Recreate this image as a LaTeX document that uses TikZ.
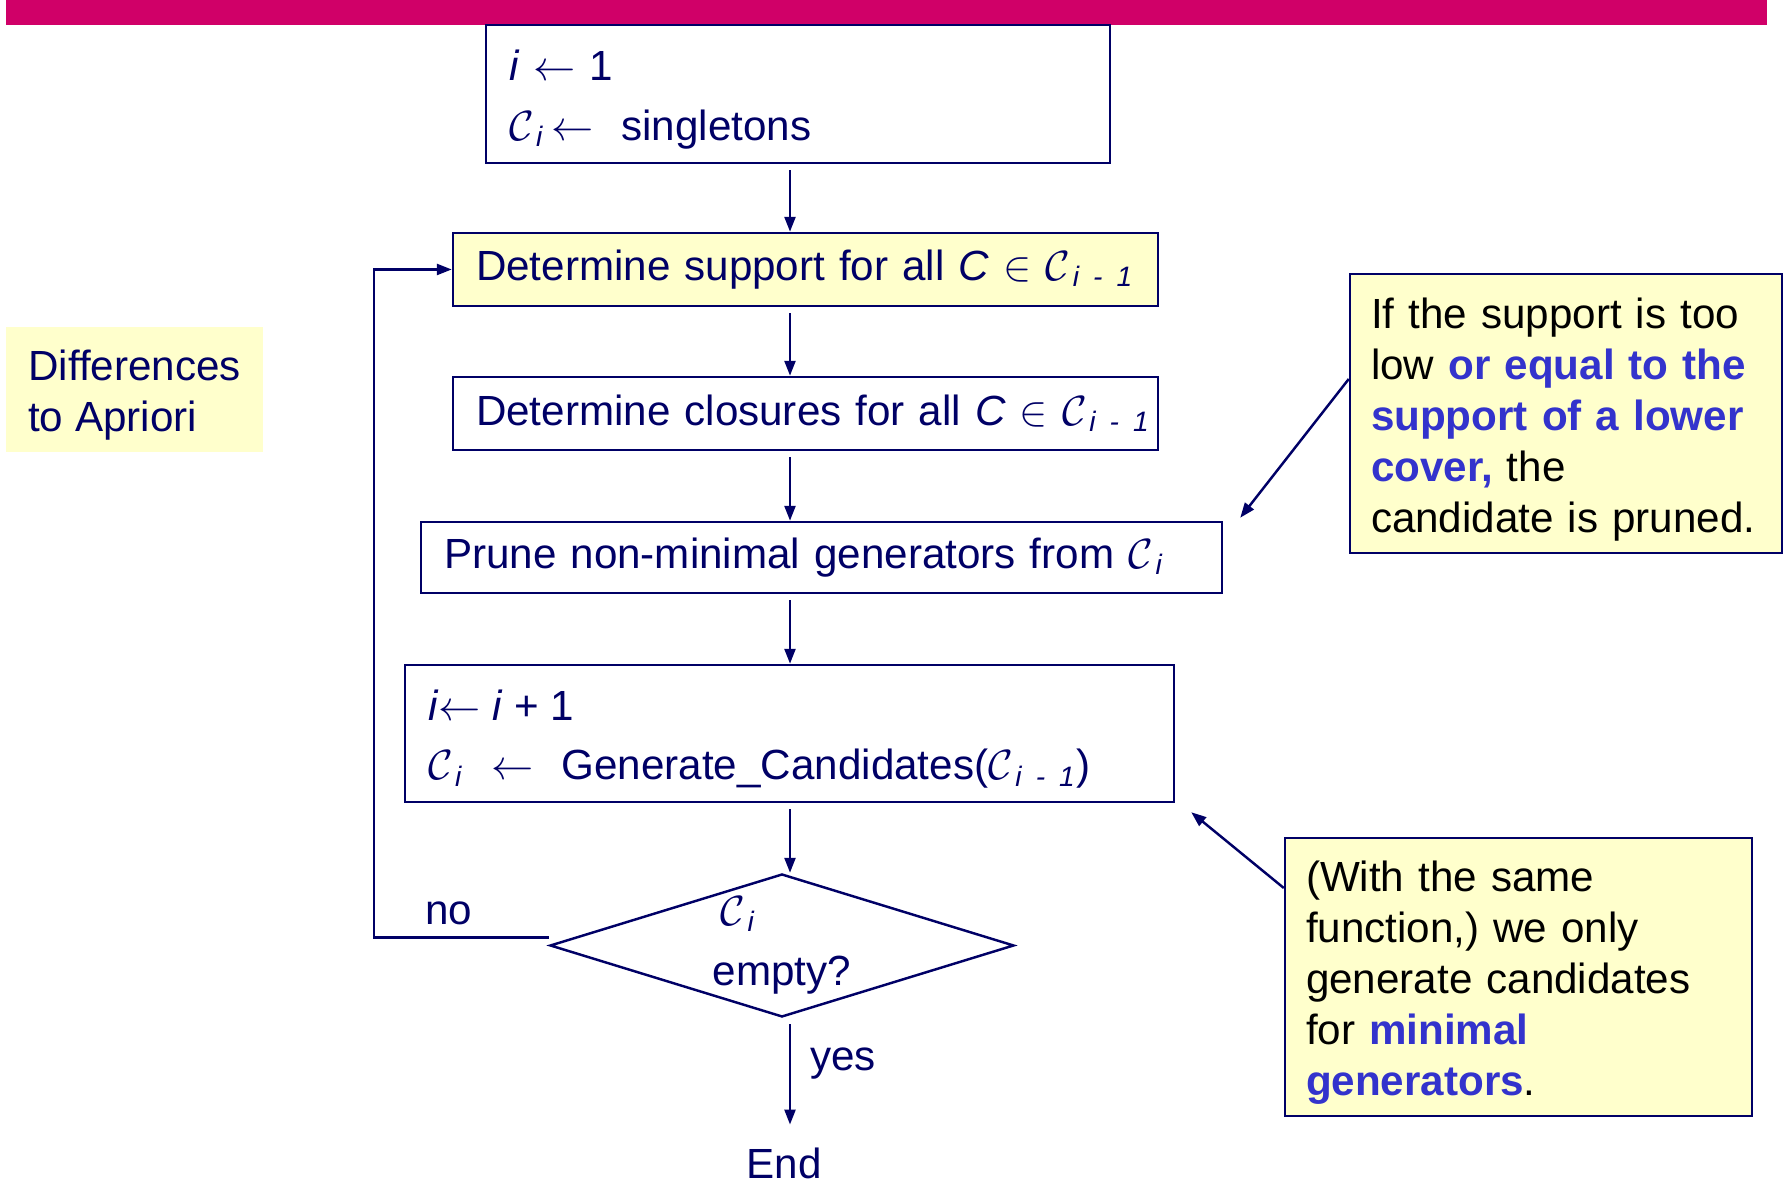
\documentclass[tikz,border=0pt]{standalone}
\usepackage{fontspec}
\usepackage{amsmath}
\setmainfont{Liberation Sans}
\usetikzlibrary{shapes.geometric,arrows.meta}
\definecolor{navy}{RGB}{0,0,102}
\definecolor{paleyellow}{RGB}{255,255,204}
\definecolor{hiblue}{RGB}{51,51,204}
\definecolor{barpink}{RGB}{208,0,104}
\newcommand{\Cs}[1]{$\mathcal{C}_{\,\textit{#1}}$}
\newcommand{\hl}[1]{\textcolor{hiblue}{\textbf{#1}}}
\newcommand{\topstrut}{\rule{0pt}{0.42cm}}

\begin{document}
\begin{tikzpicture}[auto, color=navy, line width=0.7pt,
    font=\fontsize{12}{14.5}\selectfont,
    process/.style ={rectangle, draw=navy, inner xsep=0.23cm, inner ysep=0pt,
                     align=left, text width=#1, minimum height=0.73cm},
    twoline/.style ={font=\fontsize{12}{17}\selectfont, minimum height=1.38cm},
    decision/.style ={diamond, draw=navy, inner sep=0pt,
                      minimum width=4.64cm, minimum height=1.43cm},
    comment/.style ={rectangle, draw=navy, fill=paleyellow, text=black,
                     inner xsep=0.21cm, align=left, text width=#1},
    arr/.style ={-{Triangle[length=0.15cm,width=0.11cm]}, navy, line width=0.7pt}]
   \useasboundingbox (0,0) rectangle (17.86,11.84);
   \fill[barpink] (0.06,11.59) rectangle (17.67,11.84);
   \coordinate (spine) at (7.90,0);
   \coordinate (loopx) at (3.74,0);
   % flow chart
   \node[process=5.78cm, twoline] (init) at (7.98,10.90)
      {\topstrut\textit{i} $\leftarrow$ 1\\ \Cs{i}\,$\leftarrow$\ \ singletons};
   \node[process=6.59cm, fill=paleyellow] (supp) at (8.055,9.145)
      {\mbox{Determine support for all \textit{C} $\in$\ \Cs{i - 1}}};
   \node[process=6.59cm] (clos) at (8.055,7.705)
      {\mbox{Determine closures for all \textit{C} $\in$\ \Cs{i - 1}}};
   \node[process=7.55cm, minimum height=0.71cm] (prune) at (8.215,6.265)
      {\mbox{Prune non-minimal generators from \Cs{i}}};
   \node[process=7.23cm, twoline, minimum height=1.37cm] (gen) at (7.895,4.505)
      {\topstrut\textit{i}$\leftarrow$\;\textit{i}\;+\;1\\ \mbox{\Cs{i}\ \ $\leftarrow$\ \ Generate\_Candidates(\Cs{i - 1})}};
   \node[decision, label={[align=center, font=\fontsize{12}{17}\selectfont]center:{\Cs{i}\hspace*{0.88cm}\\empty?}}] (test) at (7.82,2.385) {};
   \node (fin) at (7.84,0.21) {End};
   \node (no) at (4.49,2.71) {no};
   \node (yes) at (8.43,1.20) {yes};
   % side notes
   \node[rectangle, fill=paleyellow, align=left, minimum width=2.57cm,
         minimum height=1.21cm] (diff) at (1.345,7.945) {\topstrut Differences\\to Apriori};
   \node[comment=3.9cm, minimum height=2.79cm] (note1) at (15.66,7.705)
      {\topstrut If the support is too\\ low \hl{or equal to the}\\ \hl{support of a lower}\\ \hl{cover,} the\\ candidate is pruned.};
   \node[comment=4.25cm, minimum height=2.78cm] (note2) at (15.185,2.07)
      {\topstrut(With the same\\ function,) we only\\ generate candidates\\ for \hl{minimal}\\ \hl{generators}.};
   % connectors
   \draw[arr, shorten <=0.06cm] (init.south -| spine) -- (supp.north -| spine);
   \draw[arr, shorten <=0.06cm] (supp.south -| spine) -- (clos.north -| spine);
   \draw[arr, shorten <=0.06cm] (clos.south -| spine) -- (prune.north -| spine);
   \draw[arr, shorten <=0.06cm] (prune.south -| spine) -- (gen.north -| spine);
   \draw[arr, shorten <=0.06cm] (gen.south -| spine) -- (test.north -| spine);
   \draw[arr, shorten <=0.06cm, shorten >=0.1cm] (test.south -| spine) -- (fin.north -| spine);
   \draw[arr] ([yshift=0.08cm]test.west) -| (supp.west -| loopx) -- (supp.west);
   \draw[arr] ([yshift=0.345cm]note1.west) -- ([shift={(0.17,0.03)}]prune.north east);
   \draw[arr] ([yshift=0.89cm]note2.west) -- ([shift={(0.16,-0.09)}]gen.south east);
 \end{tikzpicture}
\end{document}
